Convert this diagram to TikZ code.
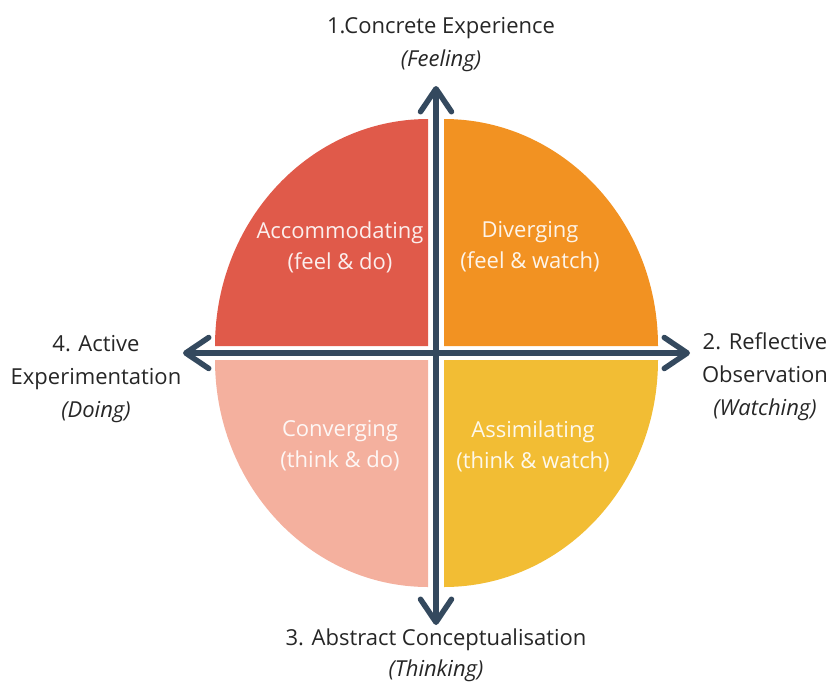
\documentclass[tikz,border=0pt]{standalone}
\usepackage{fontspec}
\setmainfont{Open Sans}
\usepackage{tkz-euclide}
\usetikzlibrary{arrows.meta}
\definecolor{slate}{HTML}{34495E}
\definecolor{accom}{HTML}{E05A4A}
\definecolor{diverg}{HTML}{F29222}
\definecolor{converg}{HTML}{F4B09E}
\definecolor{assim}{HTML}{F2BD34}
\definecolor{ink}{HTML}{262626}
\begin{document}
\begin{tikzpicture}[x=1pt,y=1pt,
  axis/.style={slate, line width=5.5pt, line cap=round,
    {Straight Barb[round,length=23pt,width=31pt]}-{Straight Barb[round,length=23pt,width=31pt]}},
  stage/.style={text=ink, align=center, font=\fontsize{22}{33}\selectfont},
  mode/.style={text=white, text opacity=0.9, align=center, font=\fontsize{22}{31}\selectfont}]
\useasboundingbox (0,0) rectangle (829,-686);
\tkzDefPoints{436/-86/T, 436/-625/B, 183/-353/L, 690/-353/R}
% the four quarters
\fill[accom] (428,-346) -- (215,-346) arc[start angle=180, end angle=90, x radius=213, y radius=227] -- cycle;
\fill[diverg] (444,-346) -- (444,-119) arc[start angle=90, end angle=0, x radius=214, y radius=227] -- cycle;
\fill[converg] (428,-360) -- (215,-360) arc[start angle=180, end angle=270, x radius=213, y radius=227] -- cycle;
\fill[assim] (444,-360) -- (444,-587) arc[start angle=270, end angle=360, x radius=214, y radius=227] -- cycle;
\draw[axis] (B) -- (T);
\draw[axis] (L) -- (R);
\node[mode] (acc) at (340,-247) {Accommodating\\(feel \& do)};
\node[mode] (div) at (530,-247) {Diverging\\(feel \& watch)};
\node[mode] (con) at (340,-446) {Converging\\(think \& do)};
\node[mode] (ass) at (533,-446) {Assimilating\\(think \& watch)};
\node[stage] (ce) at (441,-45) {1.Concrete Experience\\\textit{(Feeling)}};
\node[stage] (ro) at (765,-377) {2. Reflective\\Observation\\\textit{(Watching)}};
\node[stage, font=\fontsize{22}{31}\selectfont] (ac) at (436,-655) {3. Abstract Conceptualisation\\\textit{(Thinking)}};
\node[stage] (ae) at (96,-379) {4. Active\\Experimentation\\\textit{(Doing)}};
\end{tikzpicture}
\end{document}
